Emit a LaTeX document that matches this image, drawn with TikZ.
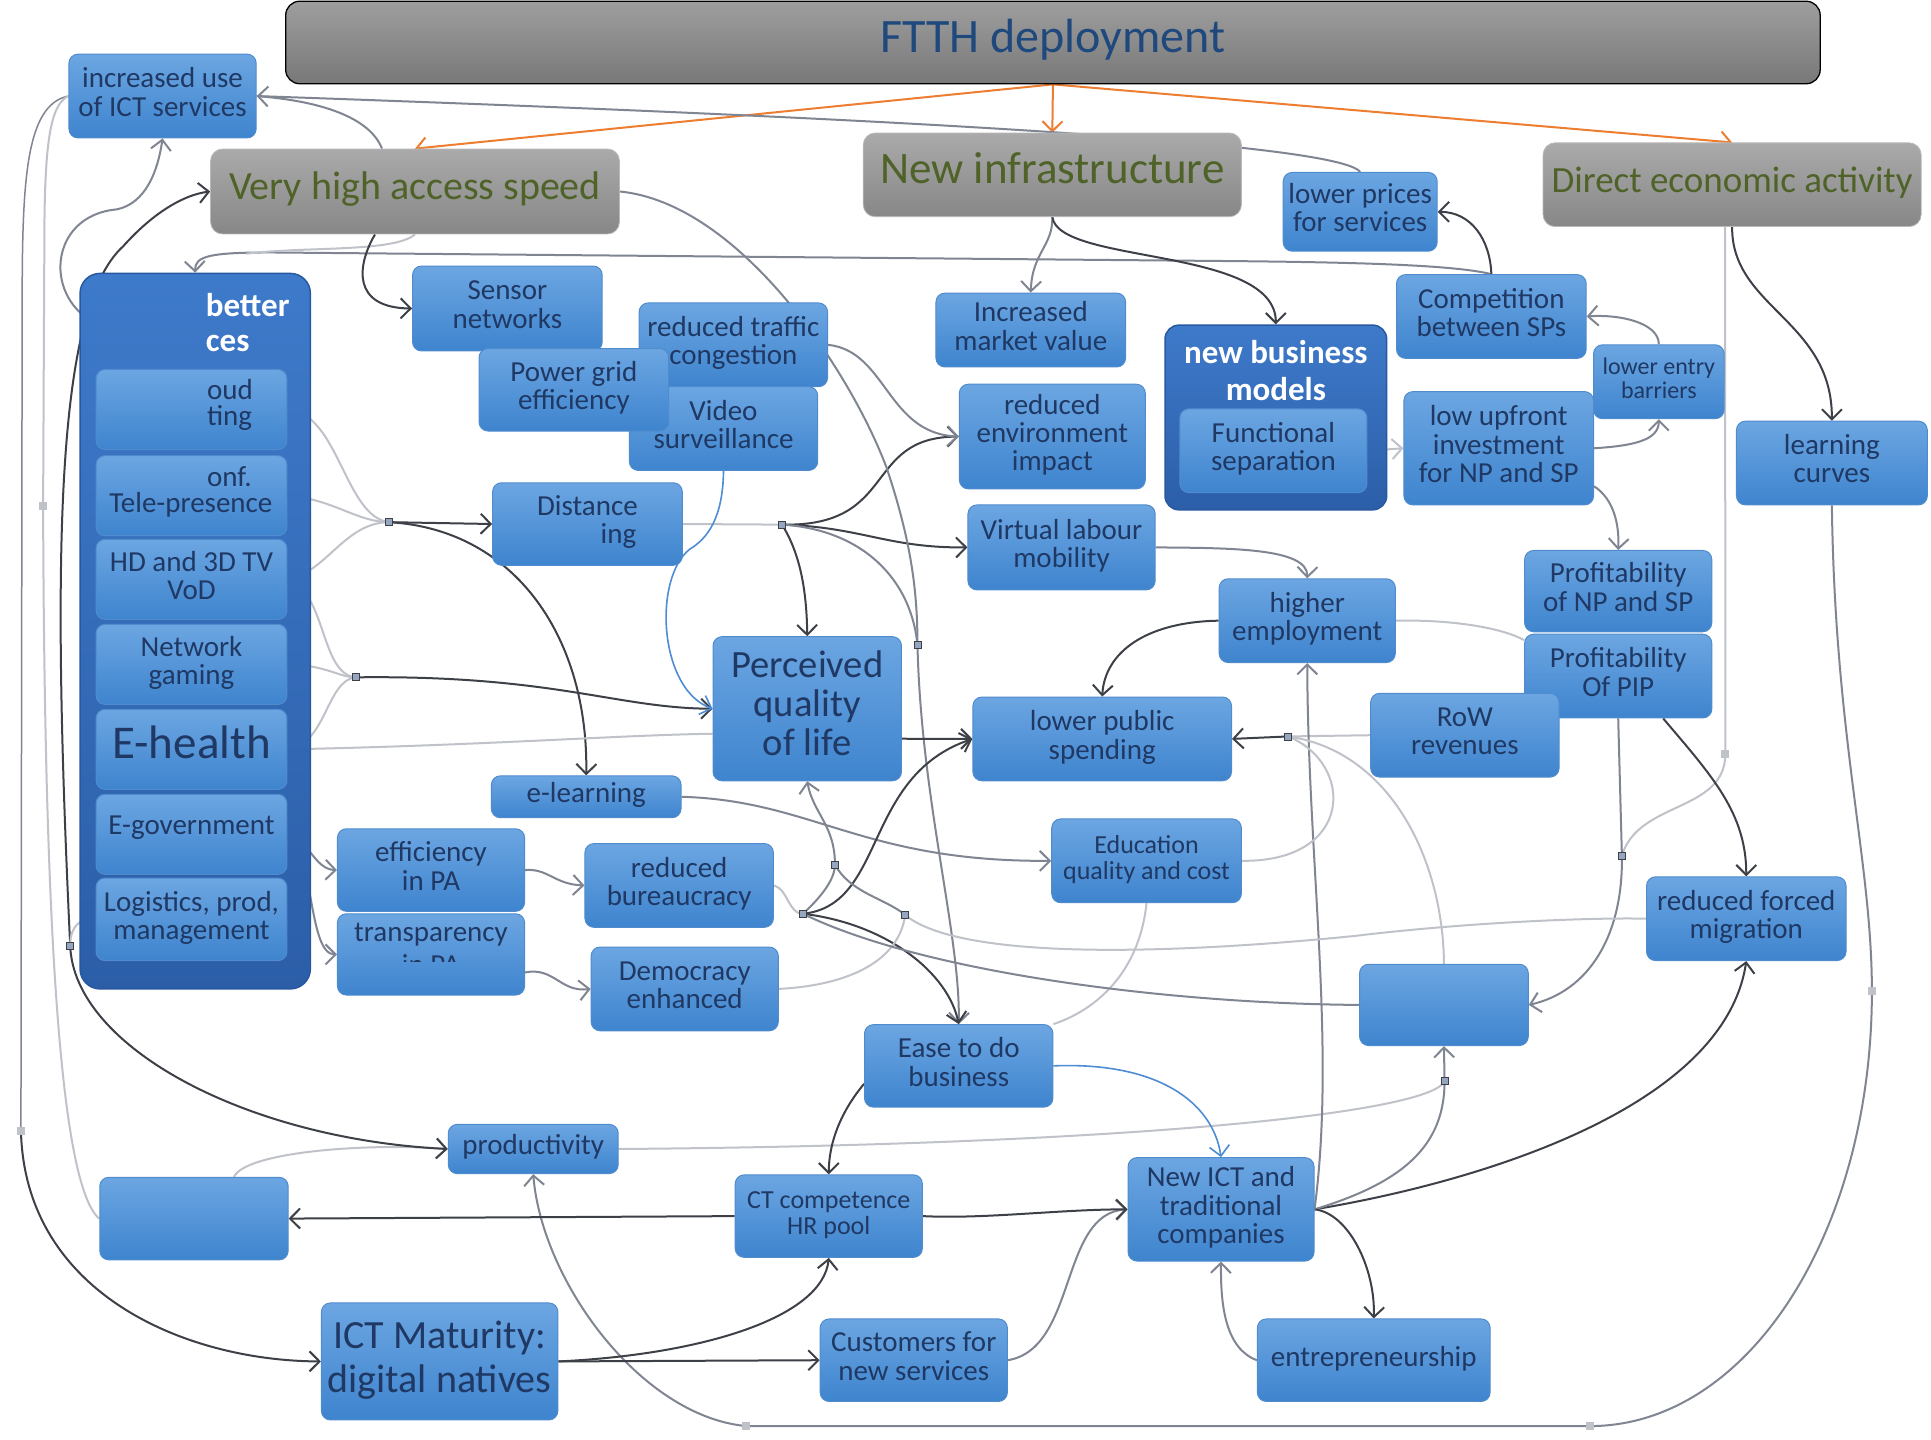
\documentclass[tikz,border=0pt]{standalone}
\usepackage{fontspec}
\setmainfont{Carlito}
\usetikzlibrary{arrows.meta}
\definecolor{txt}{RGB}{31,56,100}
\definecolor{ftthtxt}{RGB}{31,73,125}
\definecolor{gtxt}{RGB}{79,98,40}
\definecolor{boxtop}{RGB}{108,166,226}
\definecolor{boxbot}{RGB}{62,132,206}
\definecolor{boxedge}{RGB}{80,140,205}
\definecolor{gtop}{RGB}{170,170,170}
\definecolor{gbot}{RGB}{135,135,135}
\definecolor{ftop}{RGB}{158,158,158}
\definecolor{fbot}{RGB}{120,120,120}
\definecolor{conttop}{RGB}{62,122,202}
\definecolor{contbot}{RGB}{44,94,168}
\definecolor{contedge}{RGB}{40,88,160}
\definecolor{dkline}{RGB}{62,64,72}
\definecolor{grline}{RGB}{128,133,146}
\definecolor{lgline}{RGB}{192,194,202}
\definecolor{blline}{RGB}{78,140,212}
\definecolor{orline}{RGB}{237,125,49}
\definecolor{mkfill}{RGB}{150,165,192}
\pgfdeclarelayer{bg}
\pgfsetlayers{bg,main}
\newcommand\stdf{\fontsize{29}{28}\selectfont}
\newcommand\bx[8][4pt]{\node[#2,minimum width={1.2315*(#6-#4)},minimum height={1.2315*(#7-#5)}] (#3) at ({(#4+#6)/2},{(#5+#7)/2}) {\raisebox{#1}{\begin{tabular}{@{}c@{}}#8\end{tabular}}};}
\tikzset{
 box/.style={rectangle,rounded corners=9pt,draw=boxedge,line width=1pt,top color=boxtop,bottom color=boxbot,text=txt,align=center,inner sep=0pt,font=\stdf},
 gbox/.style={rectangle,rounded corners=12pt,draw=gray!55,line width=0.8pt,top color=gtop,bottom color=gbot,text=gtxt,align=center,inner sep=0pt},
 cont/.style={rectangle,rounded corners=20pt,draw=contedge,line width=1.5pt,top color=conttop,bottom color=contbot},
 tx/.style={text=txt,font=\stdf,inner sep=0pt},
 wt/.style={text=white,font=\bfseries\fontsize{33}{37}\selectfont,inner sep=0pt,align=center},
 mk/.style={rectangle,draw=dkline,fill=mkfill,line width=0.8pt,minimum size=7pt,inner sep=0pt},
 dk/.style={draw=dkline,line width=2pt},
 gr/.style={draw=grline,line width=2pt},
 lg/.style={draw=lgline,line width=2pt},
 bl/.style={draw=blline,line width=1.6pt},
 og/.style={draw=orline,line width=2pt},
 arr/.style={-{Straight Barb[length=10pt,width=20pt]}},
}
\begin{document}
\begin{tikzpicture}[x=1.2315pt,y=-1.2315pt]
\useasboundingbox (0,0) rectangle (1568,1169);
% ---------- boxes ----------
\bx[6pt]{gbox,draw=black,line width=1.3pt,rounded corners=14pt,text=ftthtxt,font=\fontsize{48}{48}\selectfont,top color=ftop,bottom color=fbot}{ftth}{232}{1}{1478}{68}{FTTH deployment}
\bx{box}{incuse}{56}{44}{208}{112}{increased use\\of ICT services}
\bx[-2pt]{gbox,font=\fontsize{40}{40}\selectfont}{vhas}{171}{121}{503}{190}{Very high access speed}
\bx[1pt]{gbox,font=\fontsize{45}{45}\selectfont}{newinf}{701}{108}{1008}{176}{New infrastructure}
\bx[-2pt]{gbox,font=\fontsize{37}{37}\selectfont}{dea}{1253}{116}{1560}{184}{Direct economic activity}
\bx{box}{lowp}{1042}{140}{1167}{204}{lower prices\\for services}
\bx{box}{compet}{1134}{223}{1288}{291}{Competition\\between SPs}
\bx{box,font=\fontsize{24}{23}\selectfont}{lowent}{1294}{280}{1400}{340}{lower entry\\barriers}
\bx{box}{learn}{1410}{342}{1565}{410}{learning\\curves}
\bx{cont,rounded corners=14pt}{nbm}{946}{264}{1126}{414}{}
\node[wt] (nbmt) at (1036,301) {new business\\models};
\bx{box}{func}{958}{332}{1110}{400}{Functional\\separation}
\bx{box}{lowup}{1140}{318}{1294}{410}{low upfront\\investment\\for NP and SP}
\bx{box}{incmk}{760}{238}{914}{298}{Increased\\market value}
\bx{box}{redenv}{779}{312}{930}{397}{reduced\\environment\\impact}
\bx{box}{sensor}{335}{216}{489}{285}{Sensor\\networks}
\bx{box}{redtr}{519}{246}{672}{314}{reduced traffic\\congestion}
\bx{box}{video}{511}{314}{664}{382}{Video\\surveillance}
\bx{box}{pgrid}{389}{283}{543}{350}{Power grid\\efficiency}
\bx{box}{dist}{400}{392}{554}{459}{Distance\\\hspace*{62pt}ing}
\bx{box}{virt}{786}{410}{938}{479}{Virtual labour\\mobility}
\bx[7pt]{box,font=\fontsize{38.6}{39}\selectfont}{perc}{579}{517}{732}{634}{Perceived\\quality\\of life}
\bx{box}{elearn}{399}{630}{553}{664}{e-learning}
\bx{box}{highemp}{990}{470}{1133}{538}{higher\\employment}
\bx{box}{profnp}{1238}{447}{1390}{513}{Profitability\\of NP and SP}
\bx{box}{profpip}{1238}{515}{1390}{583}{Profitability\\Of PIP}
\bx{box}{row}{1113}{563}{1266}{631}{RoW\\revenues}
\bx{box}{lowpub}{790}{566}{1000}{634}{lower public\\spending}
\bx{box,font=\fontsize{26}{26}\selectfont}{educ}{854}{665}{1008}{733}{Education\\quality and cost}
\bx{box}{effpa}{274}{673}{426}{740}{efficiency\\in PA}
\bx{box}{transpa}{274}{742}{426}{808}{}
\node[tx] (tpa1) at (350,759) {transparency};
\begin{scope}
\clip (300,772) rectangle (400,781);
\node[tx] (tpa2) at (350,783) {in PA};
\end{scope}
\bx{box}{redbur}{475}{685}{628}{753}{reduced\\bureaucracy}
\bx{box}{democ}{480}{769}{632}{837}{Democracy\\enhanced}
\bx{box}{redmig}{1337}{712}{1499}{780}{reduced forced\\migration}
\bx{box}{empr}{1104}{783}{1241}{849}{}
\bx{box}{ease}{702}{832}{855}{899}{Ease to do\\business}
\bx{box}{prod}{364}{913}{502}{953}{productivity}
\bx{box}{empl}{81}{956}{234}{1023}{}
\bx{box,font=\fontsize{26}{26}\selectfont}{ictc}{597}{954}{749}{1021}{CT competence\\HR pool}
\bx{box}{newict}{916}{940}{1067}{1024}{New ICT and\\traditional\\companies}
\bx[2pt]{box,font=\fontsize{40}{44}\selectfont}{ictm}{261}{1058}{453}{1153}{ICT Maturity:\\digital natives}
\bx{box}{cust}{666}{1071}{818}{1138}{Customers for\\new services}
\bx{box}{entre}{1021}{1071}{1210}{1138}{entrepreneurship}
% container better services
\bx{cont}{bcont}{65}{222}{252}{803}{}
\node[wt,anchor=west] (bct1) at (167,248) {better};
\node[wt,anchor=west] (bct2) at (167,279) {ces};
\bx{box}{cloud}{78}{300}{233}{365}{}
\node[tx,anchor=west] (cl1) at (168,316) {oud};
\node[tx,anchor=west] (cl2) at (168,339) {ting};
\bx{box}{conf}{78}{370}{233}{435}{}
\node[tx,anchor=west] (cf1) at (168,387) {onf.};
\node[tx] (cf2) at (155,410) {Tele-presence};
\bx{box}{hd}{78}{438}{233}{503}{HD and 3D TV\\VoD}
\bx{box}{netgam}{78}{507}{233}{572}{Network\\gaming}
\bx[2pt]{box,font=\fontsize{47}{47}\selectfont}{ehealth}{78}{576}{233}{641}{E-health}
\bx{box}{egov}{78}{645}{233}{710}{E-government\\[10pt]}
\bx{box}{logist}{78}{713}{233}{780}{Logistics, prod,\\management}
% ---------- markers ----------
\node[mk] (m1) at (316,424) {};
\node[mk] (m2) at (289,550) {};
\node[mk] (m3) at (635,426) {};
\node[mk] (m4) at (1046,598) {};
\node[mk] (m5) at (678,702) {};
\node[mk] (m6) at (652,742) {};
\node[mk] (m7) at (735,743) {};
\node[mk] (m8) at (745,524) {};
\node[mk] (m9) at (1173,878) {};
\node[mk,draw=lgline,fill=lgline] (m10) at (1401,612) {};
\node[mk] (m11) at (1317,695) {};
\node[mk] (m12) at (57,768) {};
\node[mk,draw=lgline,fill=lgline] (m13) at (35,411) {};
\node[mk,draw=lgline,fill=lgline] (m14) at (17,918) {};
\node[mk,draw=lgline,fill=lgline] (m15) at (606,1158) {};
\node[mk,draw=lgline,fill=lgline] (m16) at (1291,1158) {};
\node[mk,draw=lgline,fill=lgline] (m17) at (1520,805) {};
\coordinate (j1) at (200,206);
% ---------- connectors ----------
\begin{pgfonlayer}{bg}
\fill[white] (0,0) rectangle (1568,1169);
\draw[og,arr] (ftth.south) -- (vhas.north);
\draw[og,arr] (ftth.south) -- (newinf.north);
\draw[og,arr] (ftth.south) -- (dea.north);
\draw[gr,arr] (lowp.north) .. controls (1085,115) and (700,95) .. (incuse.east);
\draw[gr] ([xshift=-33pt]vhas.north) .. controls (300,95) and (260,82) .. (incuse.east);
\draw[gr,arr] (compet.north) .. controls (1180,215) and (1100,213) .. (1000,212) -- (220,205) .. controls (170,205) and (158,208) .. (bcont.north);
\draw[lg] (vhas.south) .. controls (320,205) and (250,200) .. (j1);
\draw[dk,arr] ([xshift=-40pt]vhas.south) .. controls (290,215) and (285,250) .. (sensor.west);
\draw[gr,arr] (newinf.south) .. controls (855,200) and (838,205) .. (incmk.north);
\draw[dk,arr] (newinf.south) .. controls (860,215) and (1036,200) .. (nbm.north);
\draw[dk,arr] (compet.north) .. controls (1210,195) and (1195,172) .. (lowp.east);
\draw[gr,arr] (lowent.north) .. controls (1347,262) and (1315,255) .. (compet.east);
\draw[dk,arr] (dea.south) .. controls (1406,250) and (1488,260) .. (learn.north);
\draw[lg] ([xshift=-7pt]dea.south) -- (m10.center) .. controls (1401,660) and (1330,650) .. (m11.center);
\draw[gr,arr] (profpip.south) -- (m11.center) .. controls (1318,760) and (1290,805) .. (empr.east);
\draw[lg,arr] (func.east) -- (lowup.west);
\draw[gr,arr] (lowup.east) .. controls (1325,362) and (1347,358) .. (lowent.south);
\draw[gr,arr] ([yshift=-38pt]lowup.east) .. controls (1310,405) and (1315,425) .. (profnp.north);
\draw[dk,arr] ([xshift=45pt]profpip.south) .. controls (1390,630) and (1418,660) .. (redmig.north);
\draw[gr,arr] (learn.south) .. controls (1490,600) and (1520,700) .. (m17.center) .. controls (1520,1000) and (1420,1158) .. (m16.center) -- (m15.center) .. controls (520,1150) and (440,1040) .. (prod.south);
\draw[dk,arr] (newict.east) .. controls (1200,960) and (1400,900) .. (redmig.south);
\draw[gr,arr] (newict.east) .. controls (1140,960) and (1173,930) .. (m9.center) -- (empr.south);
\draw[lg] (prod.east) .. controls (900,930) and (1160,905) .. (m9.center);
\draw[dk,arr] (newict.east) .. controls (1095,985) and (1117,1030) .. (entre.north);
\draw[gr,arr] (entre.west) .. controls (995,1095) and (991,1060) .. (newict.south);
\draw[gr,arr] (cust.east) .. controls (875,1095) and (860,985) .. (newict.west);
\draw[dk,arr] (ictc.east) .. controls (800,990) and (860,982) .. (newict.west);
\draw[dk,arr] (ictc.west) -- (empl.east);
\draw[dk,arr] ([yshift=-18pt]ease.west) .. controls (685,900) and (673,925) .. (ictc.north);
\draw[bl,arr] (ease.east) .. controls (940,862) and (985,895) .. (newict.north);
\draw[dk,arr] (ictm.east) -- (cust.west);
\draw[dk,arr] (ictm.east) .. controls (570,1100) and (668,1070) .. (ictc.south);
\draw[lg,arr] ([xshift=40pt]empl.north) .. controls (200,935) and (300,928) .. (prod.west);
\draw[grline,line width=1.5pt] (incuse.west) .. controls (20,85) and (18,150) .. (18,250) -- (m14.center);
\draw[dk,arr] (m14.center) .. controls (20,1050) and (150,1105) .. (ictm.west);
\draw[lg] (incuse.west) .. controls (40,85) and (36,120) .. (36,200) -- (m13.center) .. controls (36,700) and (45,960) .. (empl.west);
\draw[dk,arr] (m12.center) .. controls (42,450) and (45,250) .. (100,200) .. controls (125,172) and (150,158) .. (vhas.west);
\draw[dk,arr] (m12.center) .. controls (60,850) and (200,925) .. (prod.west);
\draw[lg] (logist.west) .. controls (65,745) and (57,752) .. (m12.center);
\draw[gr,arr] ([xshift=20pt,yshift=-52pt]bcont.north west) .. controls (35,245) and (38,175) .. (95,170) .. controls (118,165) and (128,140) .. (incuse.south);
\draw[lg] (cloud.east) .. controls (275,335) and (280,420) .. (m1.center);
\draw[lg] (conf.east) .. controls (270,405) and (290,424) .. (m1.center);
\draw[lg] (hd.east) .. controls (265,465) and (280,424) .. (m1.center);
\draw[dk,arr] (m1.center) -- (dist.west);
\draw[dk,arr] (m1.center) .. controls (420,430) and (478,520) .. (elearn.north);
\draw[lg] (hd.east) .. controls (265,480) and (260,548) .. (m2.center);
\draw[lg] (netgam.east) .. controls (265,540) and (275,550) .. (m2.center);
\draw[lg] (ehealth.east) .. controls (265,605) and (265,552) .. (m2.center);
\draw[dk,arr] (m2.center) .. controls (450,548) and (500,575) .. (perc.west);
\draw[lg] (ehealth.east) .. controls (400,605) and (500,597) .. ([yshift=-25pt]perc.west);
\draw[lg] (dist.east) -- (m3.center);
\draw[dk,arr] (m3.center) .. controls (650,450) and (655,480) .. (perc.north);
\draw[dk,arr] (m3.center) .. controls (700,428) and (720,445) .. (virt.west);
\draw[dk,arr] (m3.center) .. controls (730,428) and (700,355) .. (redenv.west);
\draw[gr,arr] (redtr.east) .. controls (720,285) and (720,352) .. (redenv.west);
\draw[gr] (m3.center) .. controls (700,430) and (740,470) .. (m8.center);
\draw[gr,arr] (vhas.east) .. controls (600,165) and (690,300) .. (720,380) .. controls (740,440) and (745,480) .. (m8.center) .. controls (748,650) and (780,760) .. (ease.north);
\draw[bl,arr] (video.south) .. controls (587,420) and (575,437) .. (560,446) .. controls (530,470) and (535,560) .. (perc.west);
\draw[gr,arr] (virt.east) .. controls (1000,445) and (1062,445) .. (highemp.north);
\draw[dk,arr] (highemp.west) .. controls (930,505) and (897,530) .. (lowpub.north);
\draw[lg] (highemp.east) .. controls (1180,503) and (1220,510) .. ([yshift=36pt]profpip.west);
\draw[lg] (row.west) -- (m4.center);
\draw[dk,arr] (m4.center) -- (lowpub.east);
\draw[gr,arr] (newict.east) .. controls (1085,850) and (1062,700) .. (highemp.south);
\draw[lg] (m4.center) .. controls (1100,620) and (1100,700) .. (educ.east);
\draw[lg] (m4.center) .. controls (1130,610) and (1172,700) .. (empr.north);
\draw[gr,arr] (elearn.east) .. controls (660,650) and (700,700) .. (educ.west);
\draw[lg] (educ.south) .. controls (925,790) and (890,820) .. (ease.north east);
\draw[dk,arr] ([yshift=-30pt]perc.east) -- (lowpub.west);
\draw[gr,arr] (egov.east) .. controls (250,680) and (255,706) .. (effpa.west);
\draw[gr,arr] (egov.east) .. controls (255,690) and (250,775) .. (transpa.west);
\draw[gr,arr] (effpa.east) .. controls (445,705) and (450,718) .. (redbur.west);
\draw[gr,arr] ([yshift=-18pt]transpa.east) .. controls (450,785) and (455,806) .. (democ.west);
\draw[lg] (redbur.east) .. controls (640,722) and (640,742) .. (m6.center);
\draw[gr,arr] (m6.center) .. controls (665,730) and (678,715) .. (m5.center) .. controls (678,670) and (660,660) .. (perc.south);
\draw[dk,arr] (m6.center) .. controls (720,735) and (700,630) .. (lowpub.west);
\draw[dk,arr] (m6.center) .. controls (720,750) and (770,790) .. (ease.north);
\draw[gr] (m5.center) .. controls (690,725) and (720,730) .. (m7.center);
\draw[lg] (democ.east) .. controls (690,800) and (730,780) .. (m7.center);
\draw[lg] (m7.center) .. controls (780,780) and (950,775) .. (1100,760) .. controls (1200,748) and (1300,745) .. (redmig.west);
\draw[gr] (m6.center) .. controls (750,790) and (950,815) .. (empr.west);
\end{pgfonlayer}
\end{tikzpicture}
\end{document}
